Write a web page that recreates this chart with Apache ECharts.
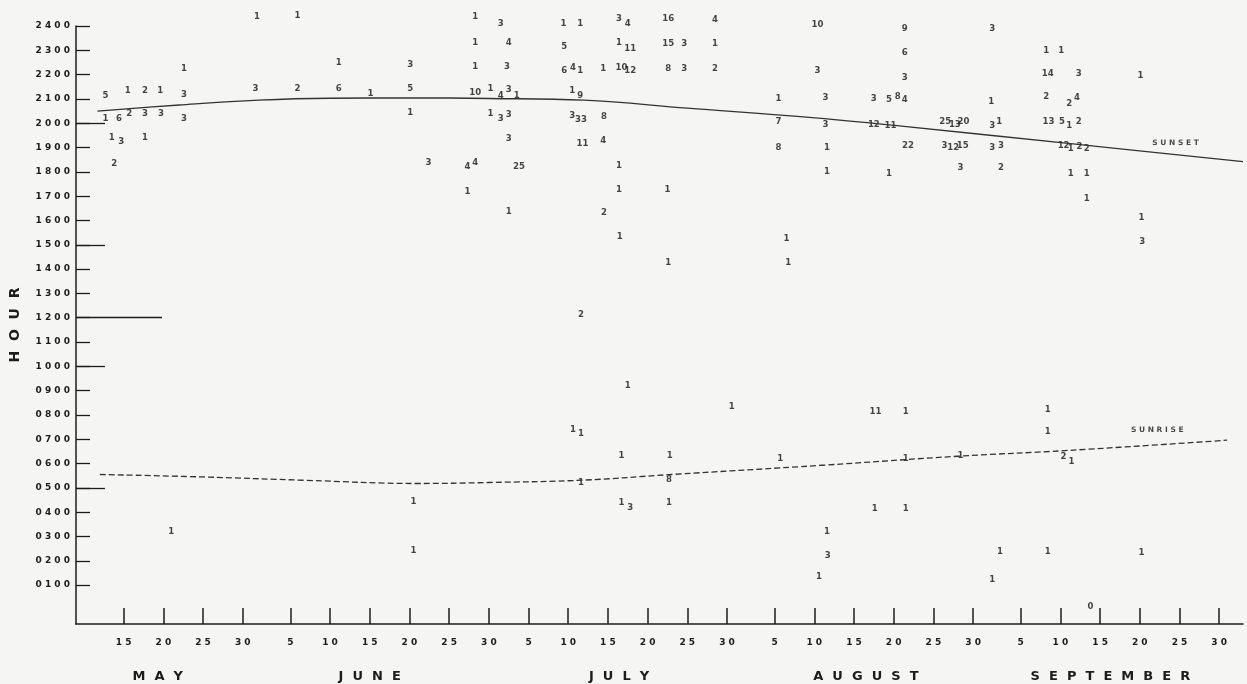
<!DOCTYPE html>
<html><head><meta charset="utf-8">
<script src="https://cdn.jsdelivr.net/npm/echarts@6/dist/echarts.min.js"></script>
<style>html,body{margin:0;padding:0;background:#f5f5f3}#c{width:1247px;height:684px}</style>
</head><body><div id="c"></div>
<script>
// ---- Data (day index: 0 = May 1) ----
const obsDay = [30.8,35.9,41.1,50.1,21.6,11.7,14.5,16.7,18.6,21.6,30.6,35.9,41.1,45.1,50.1,50.1,11.7,13.4,14.7,16.7,18.7,21.6,12.5,13.7,16.7,12.8,20.0,50.5,50.5,52.4,
58.3,61.5,69.4,71.5,76.4,77.5,82.6,88.5,58.3,62.5,69.5,76.4,77.8,82.6,84.6,88.5,58.3,62.3,69.5,70.6,71.5,74.4,76.7,77.8,82.6,84.6,88.5,101.4,
58.3,60.2,61.5,62.5,63.5,70.5,71.5,96.5,60.2,61.5,62.5,70.5,71.6,74.5,96.5,62.5,71.8,74.4,96.5,57.3,58.3,63.8,76.4,57.3,76.4,82.5,62.5,74.5,
76.5,97.5,82.6,97.7,71.6,77.5,90.6,70.6,71.6,76.7,82.8,96.7,71.6,82.7,76.7,77.8,82.7,101.6,
112.5,119.4,132.4,133.4,108.6,112.5,102.6,102.7,124.4,123.4,130.4,142.2,135.8,
142.3,108.7,112.5,130.4,130.4,
101.4,112.4,123.4,112.4,130.2,132.1,112.4,130.4,134.3,142.1,102.4,108.5,110.4,111.5,112.4,123.3,130.2,133.1,134.1,
102.4,108.5,110.6,117.5,118.7,119.8,123.4,124.3,130.5,132.2,133.1,134.3,102.6,112.8,117.4,118.5,119.7,123.4,124.5,132.4,133.3,134.4,135.3,
102.6,110.4,119.4,124.5,133.3,135.3,135.3,142.2];
const obsHour = [2441,2445,2248,2240,2223,2112,2133,2133,2133,2120,2141,2141,2141,2124,2141,2042,2021,2021,2038,2038,2038,2021,1943,1923,1943,1836,322,442,244,1840,
2437,2412,2412,2412,2429,2412,2429,2425,2330,2330,2314,2330,2309,2326,2326,2326,2235,2235,2215,2231,2215,2227,2231,2215,2227,2227,2223,2217,
2128,2141,2116,2137,2112,2133,2112,2100,2038,2021,2034,2030,2017,2026,2005,1939,1915,1927,1902,1820,1840,1820,1828,1721,1729,1729,1635,1631,
1532,1524,1429,1425,1215,919,833,738,722,635,631,619,520,536,438,421,438,137,
619,631,627,610,417,417,322,220,240,121,240,236,10,
1515,812,812,824,730,
2408,2388,2388,2289,2301,2301,2190,2203,2203,2198,2104,2100,2096,2108,2096,2091,2108,2083,2104,
1993,1993,1989,2009,1993,2009,1989,2005,2005,2005,1989,2005,1902,1910,1910,1898,1910,1898,1910,1910,1894,1906,1894,
1803,1795,1816,1816,1795,1795,1692,1614];
const obsCount = [1,1,1,3,1,5,1,2,1,3,3,2,6,1,5,1,1,6,2,3,3,3,1,3,1,2,1,1,1,3,
1,3,1,1,3,4,16,4,1,4,5,1,11,15,3,1,1,3,6,4,1,1,10,12,8,3,2,3,
10,1,4,3,1,1,9,1,1,3,3,3,33,8,7,3,11,4,8,4,4,25,1,1,1,1,1,2,
1,1,1,1,2,1,1,1,1,1,1,1,1,8,1,3,1,1,
1,1,2,1,1,1,1,3,1,1,1,1,0,
3,11,1,1,1,
10,9,3,6,1,1,3,14,3,1,3,3,5,8,4,1,2,2,4,
3,12,11,25,13,20,3,1,13,5,1,2,1,22,3,12,15,3,3,12,1,2,2,
1,1,3,2,1,1,1,1];

const sunsetDay  = [10.7, 21, 31, 40, 50, 60, 72, 85, 100, 112, 133, 155];
const sunsetHour = [2050, 2075, 2095, 2103, 2104, 2102, 2095, 2062, 2025, 1988, 1917, 1842];
const sunriseDay  = [11, 24, 37, 51, 60, 72, 83, 102, 119, 133, 153];
const sunriseHour = [555, 545, 531, 518, 522, 532, 555, 593, 630, 654, 696];

const hourTicks = [100,200,300,400,500,600,700,800,900,1000,1100,1200,1300,1400,1500,1600,1700,1800,1900,2000,2100,2200,2300,2400];
const longHourTicks = [500,1000,1500,2000];
const noonTick = [1200];
const tickDays = [14,19,24,29,35,40,45,50,55,60,65,70,75,80,85,90,96,101,106,111,116,121,127,132,137,142,147,152];
const tickLabels = ['15','20','25','30','5','10','15','20','25','30','5','10','15','20','25','30','5','10','15','20','25','30','5','10','15','20','25','30'];
const monthCenters = [18.3, 45, 76.4, 107.5, 138.3];
const monthNames = ['MAY','JUNE','JULY','AUGUST','SEPTEMBER'];
const curveLabelDays = [146.5, 144.2];
const curveLabelHours = [1919, 738];
const curveLabelTexts = ['SUNSET', 'SUNRISE'];

// ---- Chart ----
const ink = '#1c1c1c';
const yMin = -60, yMax = 2400, xMin = 8, xMax = 155;
const spaced = (s, sep) => s.split('').join(sep);

const chart = echarts.init(document.getElementById('c'));
const obsData = obsDay.map((d, i) => [d, obsHour[i], obsCount[i]]);
const sunsetData = sunsetDay.map((d, i) => [d, sunsetHour[i]]);
const sunriseData = sunriseDay.map((d, i) => [d, sunriseHour[i]]);
const curveLabelData = curveLabelDays.map((d, i) => [d, curveLabelHours[i], curveLabelTexts[i]]);

function extraY(values, len) {
  return {
    type: 'value', min: yMin, max: yMax, position: 'left', offset: 0,
    axisLine: {show: false}, splitLine: {show: false},
    axisLabel: {show: false},
    axisTick: {show: true, inside: true, length: len, customValues: values, lineStyle: {color: ink, width: 1.3}}
  };
}

chart.setOption({
  backgroundColor: '#f5f5f3',
  animation: false,
  grid: {left: 74, right: 4, top: 26, bottom: 60},
  xAxis: [{
    type: 'value', min: xMin, max: xMax,
    axisLine: {show: true, onZero: false, lineStyle: {color: ink, width: 1.6}},
    splitLine: {show: false},
    axisTick: {show: true, inside: true, length: 16, customValues: tickDays, lineStyle: {color: ink, width: 1.5}},
    axisLabel: {
      customValues: tickDays, margin: 14, color: ink, fontSize: 9, fontWeight: 'bold',
      fontFamily: 'DejaVu Sans',
      formatter: v => spaced(tickLabels[tickDays.indexOf(v)] || '', ' ')
    }
  }, {
    type: 'value', min: xMin, max: xMax, position: 'bottom', offset: 0,
    axisLine: {show: false}, axisTick: {show: false}, splitLine: {show: false},
    axisLabel: {
      customValues: monthCenters, margin: 46, color: ink, fontSize: 13, fontWeight: 'bold',
      fontFamily: 'DejaVu Sans',
      formatter: v => spaced(monthNames[monthCenters.indexOf(v)] || '', '  ')
    }
  }],
  yAxis: [{
    type: 'value', min: yMin, max: yMax,
    name: 'H  O  U  R', nameLocation: 'middle', nameRotate: 90, nameGap: 54,
    nameTextStyle: {color: ink, fontSize: 14, fontWeight: 'bold', fontFamily: 'DejaVu Sans'},
    axisLine: {show: true, onZero: false, lineStyle: {color: ink, width: 1.5}},
    splitLine: {show: false},
    axisTick: {show: true, inside: true, length: 14, customValues: hourTicks, lineStyle: {color: ink, width: 1.3}},
    axisLabel: {
      customValues: hourTicks, margin: 6, color: ink, fontSize: 9, fontWeight: 'bold',
      fontFamily: 'DejaVu Sans',
      formatter: v => spaced(String(v).padStart(4, '0'), ' ')
    }
  }, extraY(longHourTicks, 29), extraY(noonTick, 86)],
  series: [{
    name: 'Sunset', type: 'line', data: sunsetData, smooth: 0.4, showSymbol: false, symbol: 'none',
    lineStyle: {color: '#333', width: 1.4}
  }, {
    name: 'Sunrise', type: 'line', data: sunriseData, smooth: 0.4, showSymbol: false, symbol: 'none',
    lineStyle: {color: '#333', width: 1.3, type: [6, 3]}
  }, {
    name: 'Observations', type: 'scatter', data: obsData, clip: false,
    symbolSize: 2, itemStyle: {color: 'rgba(0,0,0,0)'},
    label: {
      show: true, position: 'inside', formatter: p => String(p.value[2]),
      color: '#151515', fontSize: 9.5, fontWeight: 'bold', fontFamily: 'DejaVu Sans Condensed'
    }
  }, {
    name: 'Curve labels', type: 'scatter', data: curveLabelData, clip: false,
    symbolSize: 2, itemStyle: {color: 'rgba(0,0,0,0)'},
    label: {
      show: true, position: 'inside', formatter: p => spaced(p.value[2], ' '),
      color: ink, fontSize: 7.5, fontWeight: 'bold', fontFamily: 'DejaVu Sans'
    }
  }]
});
</script>
</body></html>
